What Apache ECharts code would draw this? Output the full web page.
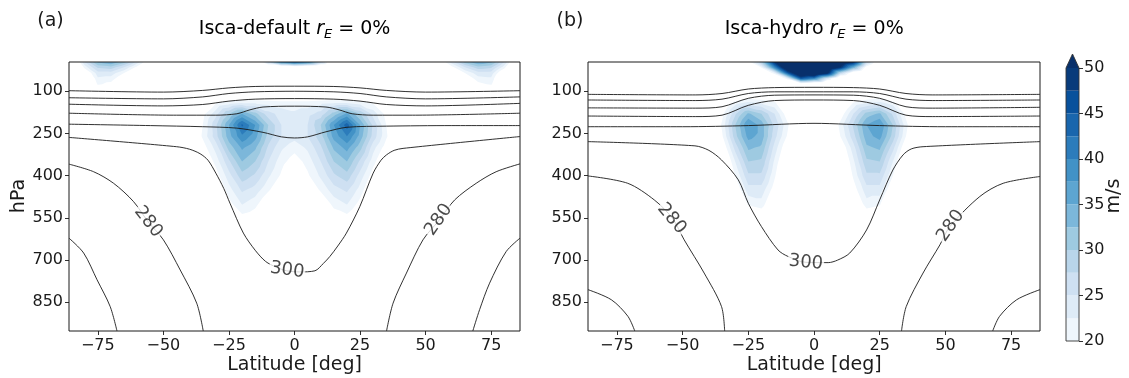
<!DOCTYPE html>
<html>
<head>
<meta charset="utf-8">
<script src="https://cdn.jsdelivr.net/npm/echarts@6/dist/echarts.min.js"></script>
<style>
  html, body { margin: 0; padding: 0; background: #fff; }
  #chart { width: 1129px; height: 378px; }
</style>
</head>
<body>
<div id="chart"></div>
<script>
// ---- grid of the zonal-mean zonal wind (m/s) ----
const lats = [-85,-80,-75,-70,-65,-60,-55,-50,-45,-40,-35,-30,-25,-20,-15,-10,-5,0,5,10,15,20,25,30,35,40,45,50,55,60,65,70,75,80,85];
const plev = [-4,15,35,55,75,100,140,180,220,260,300,350,400,450,500,550,600];

// Isca-default, rows follow plev
const windDefault = [
  [12,25,33,35,31,24,16,8,6,5,5,5,6,8,12,28,40,44,40,28,12,8,6,5,5,5,6,8,16,24,31,35,33,25,12],
  [10,21,28,29,25,19,12,6,5,5,5,5,6,7,8,10,12,14,12,10,8,7,6,5,5,5,5,6,12,19,25,29,28,21,10],
  [8,16,24,24,20,14,9,6,5,5,5,5,6,7,7,8,9,10,9,8,7,7,6,5,5,5,5,6,9,14,20,24,24,16,8],
  [7,13,22,21.5,17,12,7,6,5,5,5,6,7,8,8,8,8,8,8,8,8,8,7,6,5,5,5,6,7,12,17,21.5,22,13,7],
  [7,12,20.5,19,14,10,7,6,5,6,7,8,9,10,10,10,10,10,10,10,10,10,9,8,7,6,5,6,7,10,14,19,20.5,12,7],
  [6,9,12,12,10,8,6,6,6,7,9,11,12,12,12,12,12,12,12,12,12,12,12,11,9,7,6,6,6,8,10,12,12,9,6],
  [5,6,7,7,7,7,7,8,9,12,14,19.5,21,22,22,21.5,21,21,21,21.5,22,22,21,19.5,14,12,9,8,7,7,7,7,7,6,5],
  [5,6,6,7,7,7,8,9,10,13,19,24,30,35,31,26,24,23,24,26,31,35.5,30,24,19,13,10,9,8,7,7,7,6,6,5],
  [5,6,6,7,7,8,9,10,11,15,20,27,35,43,37.5,30,25,24,25,30,37.5,44,35,27,20,15,11,10,9,8,7,7,6,6,5],
  [5,6,6,7,7,8,9,10,11,15,20.5,26.5,34,39.5,36,29,25,23.5,25,29,36,40,34,26.5,20.5,15,11,10,9,8,7,7,6,6,5],
  [5,5,6,6,7,7,8,9,10,13,18.5,23.5,31,35.5,33,27,23,21,23,27,33,36,31,23.5,18.5,13,10,9,8,7,7,6,6,5,5],
  [5,5,6,6,6,7,7,8,9,11,16,21,27,32.5,30,25,21,18.5,21,25,30,32.5,27,21,16,11,9,8,7,7,6,6,6,5,5],
  [4,5,5,6,6,6,7,7,8,10,14,18.5,24,29,27,23,19.5,16,19.5,23,27,29,24,18.5,14,10,8,7,7,6,6,6,5,5,4],
  [4,4,5,5,5,6,6,7,7,9,12,16,21.5,25.5,24,20.5,17,14,17,20.5,24,25.5,21.5,16,12,9,7,7,6,6,5,5,5,4,4],
  [3,4,4,5,5,5,6,6,7,8,10,14,19,22.7,21,17,14,12,14,17,21,22.7,19,14,10,8,7,6,6,5,5,5,4,4,3],
  [3,3,4,4,4,5,5,5,6,7,9,12,16,19,18,14,12,10,12,14,18,19,16,12,9,7,6,5,5,5,4,4,4,3,3],
  [3,3,3,4,4,4,5,5,5,6,8,10,13,15,14,12,10,9,10,12,14,15,13,10,8,6,5,5,5,4,4,4,3,3,3]
];

// Isca-hydro, rows follow plev
const windHydro = [
  [5,5,5,5,5,5,5,5,6,6,7,10,18,30,50,60,65,66,63,57,50,27,15,9,7,6,6,5,5,5,5,5,5,5,5],
  [5,5,5,5,5,5,5,5,5,6,6,8,10,20.5,40,58,64,64,60,50,35,18,10,7,6,6,5,5,5,5,5,5,5,5,5],
  [5,5,5,5,5,5,5,5,5,5,6,7,8,12,22,45,58,60,52,28,16,10,7,6,5,5,5,5,5,5,5,5,5,5,5],
  [5,5,5,5,5,5,5,5,5,5,5,6,7,8,12,22,45,40,24,12,9,7,6,5,5,5,5,5,5,5,5,5,5,5,5],
  [5,5,5,5,5,5,5,5,5,5,6,7,8,8,8,10,14,12,10,8,8,8,8,7,6,5,5,5,5,5,5,5,5,5,5],
  [5,5,5,5,5,5,5,6,7,8,10,12,14,14,12,10,9,8,9,10,12,14,14,12,10,8,7,6,5,5,5,5,5,5,5],
  [5,5,5,5,5,5,6,7,8,10,15,21,23,22,20.5,15,10,8,10,14,20,22,23,21,15,10,8,7,6,5,5,5,5,5,5],
  [5,5,5,5,5,5,6,7,8,12,19,27,33,30,25,18,12,10,12,18,25,31,33,27,19,12,8,7,6,5,5,5,5,5,5],
  [5,5,5,5,5,6,7,8,9,14,20.5,30,37.5,34,27,20.5,13,10,14,21,28,35,37.5,30,21,14,9,8,7,6,5,5,5,5,5],
  [5,5,5,5,5,6,7,8,9,13,19.5,29,36,34,26,19.5,12,10,13,20,26.5,34,36,29,20,13,9,8,7,6,5,5,5,5,5],
  [5,5,5,5,5,6,6,7,8,11,17,26,33,32,24,17,11,9,11,17,24,32,33,26,17,11,8,7,6,6,5,5,5,5,5],
  [4,5,5,5,5,5,6,7,8,10,14,22.5,30,29.5,22,15,10,8,10,15,22,29.5,30,22.5,14,10,8,7,6,5,5,5,5,5,4],
  [4,4,5,5,5,5,6,6,7,9,12,20,27,27,20.5,13,9,7,9,13,20.5,27,27,20,12,9,7,6,6,5,5,5,5,4,4],
  [4,4,4,5,5,5,5,6,7,8,11,17,24,24,18.5,11,8,6,8,11,18.5,24,24,17,11,8,7,6,5,5,5,5,4,4,4],
  [3,4,4,4,5,5,5,6,6,7,9,13,20.5,21.5,16,10,7,6,7,10,16,21.5,20.5,13,9,7,6,6,5,5,4,4,4,4,3],
  [3,3,4,4,4,5,5,5,6,6,8,11,16,17,13,9,7,5,7,9,13,17,16,11,8,6,6,5,5,5,4,4,4,3,3],
  [3,3,3,4,4,4,5,5,5,6,7,9,13,14,11,8,6,5,6,8,11,14,13,9,7,6,5,5,5,4,4,4,3,3,3]
];

// filled contour levels and their colours (last entry: values above 50)
const windLevels = [20,22.5,25,27.5,30,32.5,35,37.5,40,42.5,45,47.5,50];
const levelColors = ['#eff6fc','#deebf7','#cee0f2','#b9d5ea','#9ecae1','#7cb7da','#5da5d1','#4292c6','#2c7cbb','#1966ad','#08519c','#083b7b','#08306b'];

// axis ticks
const latTicks = [-75,-50,-25,0,25,50,75];
const presTicks = [100,250,400,550,700,850];
const cbarTicks = [20,25,30,35,40,45,50];

// ---- potential temperature contours [lat, hPa] ----
const thetaDefault400 = [[-86,98],[-50,103],[-35,97],[-25,88],[-15,83],[0,82],[15,83],[25,88],[35,97],[50,103],[86,98]];
const thetaDefault380 = [[-86,123],[-50,127],[-35,120],[-25,108],[-15,102],[0,100],[15,102],[25,108],[35,120],[50,127],[86,120]];
const thetaDefault360 = [[-86,146],[-50,152],[-35,147],[-25,135],[-15,128],[0,126],[15,128],[25,135],[35,147],[50,152],[86,143]];
const thetaDefault340 = [[-86,178],[-45,185],[-30,185],[-22,180],[-17,166],[-12,156],[0,153],[12,156],[17,166],[22,180],[30,185],[45,185],[86,178]];
const thetaDefault320 = [[-86,217],[-55,222],[-35,226],[-22,231],[-12,246],[-5,262],[0,266],[5,262],[12,244],[20,228],[35,224],[60,222],[86,222]];
const thetaDefault300 = [[-86,264],[-45,297],[-40,306],[-36,322],[-33,345],[-30,391],[-27,445],[-24.6,498],[-19.5,604],[-15,665],[-11,705],[-7,725],[-3,738],[2,742],[7.8,738],[11,712],[13.5,687],[16.5,650],[19.8,604],[24.9,510],[30,391],[33,345],[35.1,326],[38,310],[41.4,303],[86,261]];
const thetaDefault280S = [[-86,359],[-76.6,386],[-69,427],[-61.4,492],[-55.8,564],[-50,628],[-43.6,735],[-37.3,853],[-34.8,952]];
const thetaDefault280N = [[86,358],[76.9,386],[69.3,427],[61.1,486],[55,560],[49,628],[42.7,746],[37.6,853],[35.1,952]];
const thetaDefault260S = [[-86,622],[-80.4,675],[-75.3,770],[-70.3,865],[-67.7,952]];
const thetaDefault260N = [[86,622],[80.7,670],[74.4,782],[70.6,876],[68,952]];

const thetaHydro400 = [[-86,111],[-45,113],[-35,108],[-25,92],[-15,87],[0,86],[15,87],[25,92],[35,108],[45,113],[86,111]];
const thetaHydro380 = [[-86,131],[-45,133],[-35,128],[-25,108],[-15,102],[0,102],[15,102],[25,108],[35,128],[45,133],[86,131]];
const thetaHydro360 = [[-86,159],[-45,160],[-35,155],[-25,125],[-15,114],[0,113],[15,114],[25,125],[35,155],[45,160],[86,157]];
const thetaHydro340 = [[-86,188],[-45,190],[-35,185],[-25,150],[-15,133],[0,131],[15,133],[25,150],[35,185],[45,190],[86,188]];
const thetaHydro320 = [[-86,226],[-50,226],[-25,222],[0,214],[25,222],[50,226],[86,226]];
const thetaHydro300 = [[-86,279],[-45.3,294],[-40,310],[-35.2,344],[-28.8,415],[-25,498],[-20,581],[-13.7,664],[-9.9,687],[-3.1,708],[5.4,709],[9,700],[13.6,675],[20,593],[25,486],[30,380],[33.9,326],[37,305],[41.5,297],[86,279]];
const thetaHydro280S = [[-86,401],[-70.9,427],[-60.8,486],[-53.9,551],[-49.4,628],[-41.8,746],[-35.2,865],[-34,952]];
const thetaHydro280N = [[86,403],[72,427],[63.1,474],[51.7,581],[47.9,646],[41.5,746],[35.1,865],[33.3,952]];
const thetaHydro260S = [[-86,805],[-77.1,841],[-70.8,900],[-68.2,952]];
const thetaHydro260N = [[86,805],[77.1,841],[70.6,900],[68,952]];

// inline contour labels: [lat, hPa, text, rotation]
const thetaLabelsDefault = [[-55.8,564,'280',-52],[55,557,'280',55],[-2.8,736,'300',-8]];
const thetaLabelsHydro = [[-54.2,553,'280',-50],[52,578,'280',55],[-3.1,709,'300',-6]];

// ---- drawing helpers ----
const FONT = 'DejaVu Sans';
const INK = '#1a1a1a';

// keep the part of a triangle (vertices [lat, p, value]) where value >= lvl
function clipAbove(poly, lvl) {
  const out = [];
  for (let i = 0; i < poly.length; i++) {
    const a = poly[i], b = poly[(i + 1) % poly.length];
    const ina = a[2] >= lvl, inb = b[2] >= lvl;
    if (ina) out.push(a);
    if (ina !== inb) {
      const t = (lvl - a[2]) / (b[2] - a[2]);
      out.push([a[0] + t * (b[0] - a[0]), a[1] + t * (b[1] - a[1]), lvl]);
    }
  }
  return out;
}

function regionPath(field, lvl, api) {
  let d = '';
  for (let j = 0; j < plev.length - 1; j++) {
    for (let i = 0; i < lats.length - 1; i++) {
      const a = [lats[i], plev[j], field[j][i]];
      const b = [lats[i + 1], plev[j], field[j][i + 1]];
      const c = [lats[i + 1], plev[j + 1], field[j + 1][i + 1]];
      const e = [lats[i], plev[j + 1], field[j + 1][i]];
      [[a, b, c], [a, c, e]].forEach(tri => {
        const poly = clipAbove(tri, lvl);
        if (poly.length < 3) return;
        poly.forEach((q, k) => {
          const pt = api.coord([q[0], q[1]]);
          d += (k ? 'L' : 'M') + pt[0].toFixed(2) + ',' + pt[1].toFixed(2);
        });
        d += 'Z';
      });
    }
  }
  return d;
}

function windSeries(field, gi) {
  return {
    type: 'custom', xAxisIndex: gi, yAxisIndex: gi, silent: true, clip: true, z: 1,
    data: windLevels.map(l => [0, l]),
    renderItem: (params, api) => {
      const k = params.dataIndex;
      const d = regionPath(field, windLevels[k], api);
      if (!d) return { type: 'group', children: [] };
      return { type: 'path', z2: k, shape: { pathData: d }, style: { fill: levelColors[k], stroke: null } };
    }
  };
}

function thetaSeries(pts, gi) {
  return {
    type: 'line', xAxisIndex: gi, yAxisIndex: gi, data: pts, symbol: 'none', showSymbol: false,
    smooth: 0.3, silent: true, z: 3, clip: true,
    lineStyle: { color: INK, width: 0.9 }
  };
}

function labelSeries(list, gi) {
  return {
    type: 'scatter', xAxisIndex: gi, yAxisIndex: gi, silent: true, z: 4,
    symbolSize: 1, itemStyle: { color: 'rgba(0,0,0,0)' },
    data: list.map(l => ({
      value: [l[0], l[1]],
      label: { rotate: l[3], formatter: l[2] }
    })),
    label: {
      show: true, position: 'inside', fontFamily: FONT, fontSize: 18, color: INK,
      backgroundColor: '#fff', padding: [0, 1]
    }
  };
}

const fmtLat = v => String(v).replace('-', '\u2212');

function latAxis(gi) {
  return {
    type: 'value', gridIndex: gi, min: -86, max: 86, position: 'bottom',
    axisLine: { show: false, onZero: false },
    axisTick: { show: true, length: 4, customValues: latTicks, lineStyle: { color: INK, width: 0.9 } },
    axisLabel: { customValues: latTicks, formatter: fmtLat, fontFamily: FONT, fontSize: 16, color: INK, margin: 7 },
    splitLine: { show: false }
  };
}
function presAxis(gi) {
  return {
    type: 'value', gridIndex: gi, min: -4, max: 952, inverse: true, position: 'left',
    axisLine: { show: false, onZero: false },
    axisTick: { show: true, length: 4, customValues: presTicks, lineStyle: { color: INK, width: 0.9 } },
    axisLabel: { customValues: presTicks, fontFamily: FONT, fontSize: 16, color: INK, margin: 6 },
    splitLine: { show: false }
  };
}

const titleRich = {
  a: { fontFamily: FONT, fontSize: 19, color: INK, lineHeight: 24 },
  i: { fontFamily: FONT, fontSize: 19, fontStyle: 'italic', color: INK, lineHeight: 24 },
  s: { fontFamily: FONT, fontSize: 13, fontStyle: 'italic', color: INK, lineHeight: 13, verticalAlign: 'bottom' }
};

function txt(x, y, text, size, rot) {
  return {
    type: 'text', x: x, y: y, rotation: rot || 0, silent: true,
    style: { text: text, fontFamily: FONT, fontSize: size, fill: INK, align: 'center', verticalAlign: 'middle' }
  };
}

const chart = echarts.init(document.getElementById('chart'));

chart.setOption({
  animation: false,
  backgroundColor: '#fff',
  grid: [
    { left: 69, top: 62, width: 451, height: 269, show: true, borderColor: INK, borderWidth: 1, z: 10, backgroundColor: 'transparent' },
    { left: 588, top: 62, width: 452, height: 269, show: true, borderColor: INK, borderWidth: 1, z: 10, backgroundColor: 'transparent' },
    { left: 1066, top: 68, width: 13, height: 273 }
  ],
  xAxis: [
    latAxis(0), latAxis(1),
    { type: 'value', gridIndex: 2, min: 0, max: 1, show: false, axisLine: { onZero: false } }
  ],
  yAxis: [
    presAxis(0), presAxis(1),
    {
      type: 'value', gridIndex: 2, min: 20, max: 50, interval: 5, position: 'right',
      axisLine: { show: false, onZero: false },
      axisTick: { show: true, length: 4, lineStyle: { color: INK, width: 0.9 } },
      axisLabel: { fontFamily: FONT, fontSize: 16, color: INK, margin: 5 },
      splitLine: { show: false }
    }
  ],
  series: [
    windSeries(windDefault, 0),
    windSeries(windHydro, 1),
    thetaSeries(thetaDefault400, 0), thetaSeries(thetaDefault380, 0), thetaSeries(thetaDefault360, 0),
    thetaSeries(thetaDefault340, 0), thetaSeries(thetaDefault320, 0), thetaSeries(thetaDefault300, 0),
    thetaSeries(thetaDefault280S, 0), thetaSeries(thetaDefault280N, 0),
    thetaSeries(thetaDefault260S, 0), thetaSeries(thetaDefault260N, 0),
    thetaSeries(thetaHydro400, 1), thetaSeries(thetaHydro380, 1), thetaSeries(thetaHydro360, 1),
    thetaSeries(thetaHydro340, 1), thetaSeries(thetaHydro320, 1), thetaSeries(thetaHydro300, 1),
    thetaSeries(thetaHydro280S, 1), thetaSeries(thetaHydro280N, 1),
    thetaSeries(thetaHydro260S, 1), thetaSeries(thetaHydro260N, 1),
    labelSeries(thetaLabelsDefault, 0),
    labelSeries(thetaLabelsHydro, 1),
    // colour bar: one band per level, the last one is the extension triangle
    {
      type: 'custom', xAxisIndex: 2, yAxisIndex: 2, silent: true, clip: false, z: 2,
      data: windLevels.map(l => [0, l]),
      renderItem: (params, api) => {
        const k = params.dataIndex;
        const lo = windLevels[k];
        if (k < windLevels.length - 1) {
          const hi = windLevels[k + 1];
          const p0 = api.coord([0, lo]), p1 = api.coord([1, hi]);
          return { type: 'rect', z2: 1, shape: { x: p0[0], y: p1[1], width: p1[0] - p0[0], height: p0[1] - p1[1] }, style: { fill: levelColors[k] } };
        }
        const bl = api.coord([0, windLevels[0]]), tl = api.coord([0, lo]), tr = api.coord([1, lo]);
        const tip = [(tl[0] + tr[0]) / 2, tl[1] - 14];
        return {
          type: 'group', children: [
            { type: 'polygon', z2: 2, shape: { points: [tl, tr, tip] }, style: { fill: levelColors[k] } },
            { type: 'polygon', z2: 3, shape: { points: [[bl[0], bl[1]], [tr[0], bl[1]], tr, tip, tl] }, style: { fill: null, stroke: '#333', lineWidth: 0.9 } }
          ]
        };
      }
    }
  ],
  graphic: [
    txt(50.5, 21, '(a)', 19),
    txt(570, 21, '(b)', 19),
    {
      type: 'text', x: 294.6, y: 29, silent: true,
      style: { text: '{a|Isca-default }{i|r}{s|E}{a| = 0%}', rich: titleRich, align: 'center', verticalAlign: 'middle' }
    },
    {
      type: 'text', x: 814.2, y: 29, silent: true,
      style: { text: '{a|Isca-hydro }{i|r}{s|E}{a| = 0%}', rich: titleRich, align: 'center', verticalAlign: 'middle' }
    },
    txt(19, 196, 'hPa', 19, Math.PI / 2),
    txt(294.6, 365, 'Latitude [deg]', 19),
    txt(814.2, 365, 'Latitude [deg]', 19),
    txt(1114, 196, 'm/s', 19, Math.PI / 2)
  ]
});
</script>
</body>
</html>
